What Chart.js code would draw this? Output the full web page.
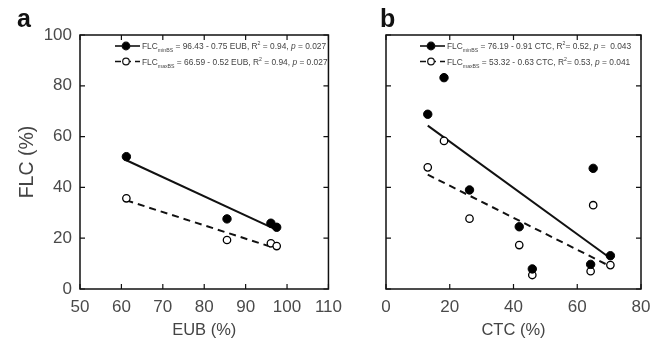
<!DOCTYPE html>
<html>
<head>
<meta charset="utf-8">
<script src="https://cdn.jsdelivr.net/npm/chart.js@4.4.1/dist/chart.umd.min.js"></script>
<style>
  body { margin: 0; background: #fff; }
  #wrap { position: relative; width: 660px; height: 340px; background: #fff; }
  canvas { position: absolute; top: 0; }
</style>
</head>
<body>
<div id="wrap">
  <canvas id="chartA" width="350" height="340" style="left:0px"></canvas>
  <canvas id="chartB" width="310" height="340" style="left:350px"></canvas>
</div>
<script>
// panel a: FLC vs EUB
const eubValues = [61.2, 85.5, 96.1, 97.5];
const flcMinA = [52.1, 27.6, 25.9, 24.3];
const flcMaxA = [35.7, 19.3, 18.0, 16.9];
const fitEub = [61.2, 97.5];
const fitMinA = [50.7, 23.3];
const fitMaxA = [34.9, 15.9];

// panel b: FLC vs CTC
const ctcValues = [13.1, 18.2, 26.2, 41.8, 45.9, 65.0, 64.2, 70.4];
const flcMinB = [68.8, 83.2, 39.0, 24.5, 7.9, 47.5, 9.7, 13.1];
const flcMaxB = [47.9, 58.3, 27.7, 17.3, 5.5, 33.0, 7.0, 9.4];
const fitCtc = [13.1, 70.4];
const fitMinB = [64.3, 12.1];
const fitMaxB = [45.0, 8.9];

// axes
const flcTicks = [0, 20, 40, 60, 80, 100];
const eubTicks = [50, 60, 70, 80, 90, 100, 110];
const ctcTicks = [0, 20, 40, 60, 80];

// legend text
const legendA = [
    { sub: 'minBS', eq: ' = 96.43 - 0.75 EUB, R', r2: ' = 0.94, ', p: ' = 0.027' },
    { sub: 'maxBS', eq: ' = 66.59 - 0.52 EUB, R', r2: ' = 0.94, ', p: ' = 0.027' }
];
const legendB = [
    { sub: 'minBS', eq: ' = 76.19 - 0.91 CTC, R', r2: '= 0.52, ', p: ' =  0.043' },
    { sub: 'maxBS', eq: ' = 53.32 - 0.63 CTC, R', r2: '= 0.53, ', p: ' = 0.041' }
];

const FONT = "'Liberation Sans', Arial, sans-serif";

function pairs(xs, ys) {
    return xs.map((v, i) => ({ x: v, y: ys[i] }));
}

function drawLegend(ctx, x0, rows, entries) {
    entries.forEach((e, i) => {
        const y = rows[i];
        const open = i === 1;
        ctx.save();
        ctx.strokeStyle = '#111';
        ctx.lineWidth = 1.6;
        ctx.setLineDash(open ? [6, 4] : []);
        ctx.beginPath();
        ctx.moveTo(x0, y);
        ctx.lineTo(x0 + 25, y);
        ctx.stroke();
        ctx.setLineDash([]);
        ctx.beginPath();
        ctx.arc(x0 + 11, y, open ? 3.3 : 3.8, 0, Math.PI * 2);
        ctx.fillStyle = open ? '#fff' : '#000';
        ctx.fill();
        ctx.lineWidth = 1.2;
        ctx.stroke();

        ctx.fillStyle = '#444';
        ctx.textBaseline = 'alphabetic';
        let x = x0 + 27;
        const base = y + 3;
        const seg = (txt, size, dy, italic) => {
            ctx.font = (italic ? 'italic ' : '') + size + 'px ' + FONT;
            ctx.fillText(txt, x, base + dy);
            x += ctx.measureText(txt).width;
        };
        seg('FLC', 8.4, 0);
        seg(e.sub, 5.2, 3);
        seg(e.eq, 8.4, 0);
        seg('2', 5.2, -4);
        seg(e.r2, 8.4, 0);
        seg('p', 8.4, 0, true);
        seg(e.p, 8.4, 0);
        ctx.restore();
    });
}

function makeDecor(letter, letterX, legendX, entries) {
    return {
        id: 'decor',
        afterDraw(chart) {
            const { ctx, chartArea: a, scales: { x, y } } = chart;
            ctx.save();
            ctx.strokeStyle = '#111';
            ctx.lineWidth = 1.5;
            ctx.strokeRect(a.left, a.top, a.right - a.left, a.bottom - a.top);
            ctx.lineWidth = 1.2;
            ctx.beginPath();
            x.ticks.forEach(t => {
                const px = x.getPixelForValue(t.value);
                ctx.moveTo(px, a.bottom); ctx.lineTo(px, a.bottom - 5);
                ctx.moveTo(px, a.top); ctx.lineTo(px, a.top + 5);
            });
            y.ticks.forEach(t => {
                const py = y.getPixelForValue(t.value);
                ctx.moveTo(a.left, py); ctx.lineTo(a.left + 5, py);
                ctx.moveTo(a.right, py); ctx.lineTo(a.right - 5, py);
            });
            ctx.stroke();

            ctx.fillStyle = '#111';
            ctx.font = 'bold 25px ' + FONT;
            ctx.fillText(letter, letterX, 27);
            ctx.restore();

            drawLegend(ctx, legendX, [46, 61.5], entries);
        }
    };
}

function makeChart(id, cfg) {
    return new Chart(document.getElementById(id).getContext('2d'), {
        type: 'scatter',
        data: {
            datasets: [
                { data: pairs(cfg.xs, cfg.minY), pointRadius: 4.2, pointBackgroundColor: '#000', pointBorderColor: '#000', pointBorderWidth: 1, order: 1 },
                { data: pairs(cfg.xs, cfg.maxY), pointRadius: 3.7, pointBackgroundColor: '#fff', pointBorderColor: '#000', pointBorderWidth: 1.3, order: 2 },
                { data: pairs(cfg.fitX, cfg.fitMin), showLine: true, pointRadius: 0, borderColor: '#111', borderWidth: 2, order: 3 },
                { data: pairs(cfg.fitX, cfg.fitMax), showLine: true, pointRadius: 0, borderColor: '#111', borderWidth: 2, borderDash: [7, 5], order: 4 }
            ]
        },
        options: {
            responsive: false,
            animation: false,
            events: [],
            layout: { padding: { top: 35, right: cfg.padRight, left: 0, bottom: 0 } },
            plugins: { legend: { display: false }, tooltip: { enabled: false } },
            scales: {
                x: {
                    type: 'linear',
                    min: cfg.xTicks[0],
                    max: cfg.xTicks[cfg.xTicks.length - 1],
                    afterBuildTicks: s => { s.ticks = cfg.xTicks.map(v => ({ value: v })); },
                    grid: { display: false, drawTicks: false },
                    border: { display: false },
                    ticks: { color: '#4a4a4a', font: { family: FONT, size: 17 }, padding: 8, maxRotation: 0, autoSkip: false },
                    title: { display: true, text: cfg.xTitle, color: '#444', font: { family: FONT, size: 16.5 }, padding: { bottom: 0 } },
                    afterFit: s => { s.height = 51; }
                },
                y: {
                    min: 0,
                    max: 100,
                    afterBuildTicks: s => { s.ticks = flcTicks.map(v => ({ value: v })); },
                    grid: { display: false, drawTicks: false },
                    border: { display: false },
                    ticks: { display: cfg.yLabels, color: '#4a4a4a', font: { family: FONT, size: 17 }, padding: 8 },
                    title: { display: cfg.yLabels, text: 'FLC (%)', color: '#444', font: { family: FONT, size: 19.5 }, padding: { top: 16 } },
                    afterFit: s => { s.width = cfg.yWidth; }
                }
            }
        },
        plugins: [makeDecor(cfg.letter, cfg.letterX, cfg.legendX, cfg.legend)]
    });
}

window.onload = function() {
    makeChart('chartA', {
        xs: eubValues, minY: flcMinA, maxY: flcMaxA,
        fitX: fitEub, fitMin: fitMinA, fitMax: fitMaxA,
        xTicks: eubTicks, xTitle: 'EUB (%)', yLabels: true, yWidth: 80, padRight: 16,
        letter: 'a', letterX: 17, legendX: 115, legend: legendA
    });
    makeChart('chartB', {
        xs: ctcValues, minY: flcMinB, maxY: flcMaxB,
        fitX: fitCtc, fitMin: fitMinB, fitMax: fitMaxB,
        xTicks: ctcTicks, xTitle: 'CTC (%)', yLabels: false, yWidth: 36, padRight: 19,
        letter: 'b', letterX: 30, legendX: 70, legend: legendB
    });
};
</script>
</body>
</html>
